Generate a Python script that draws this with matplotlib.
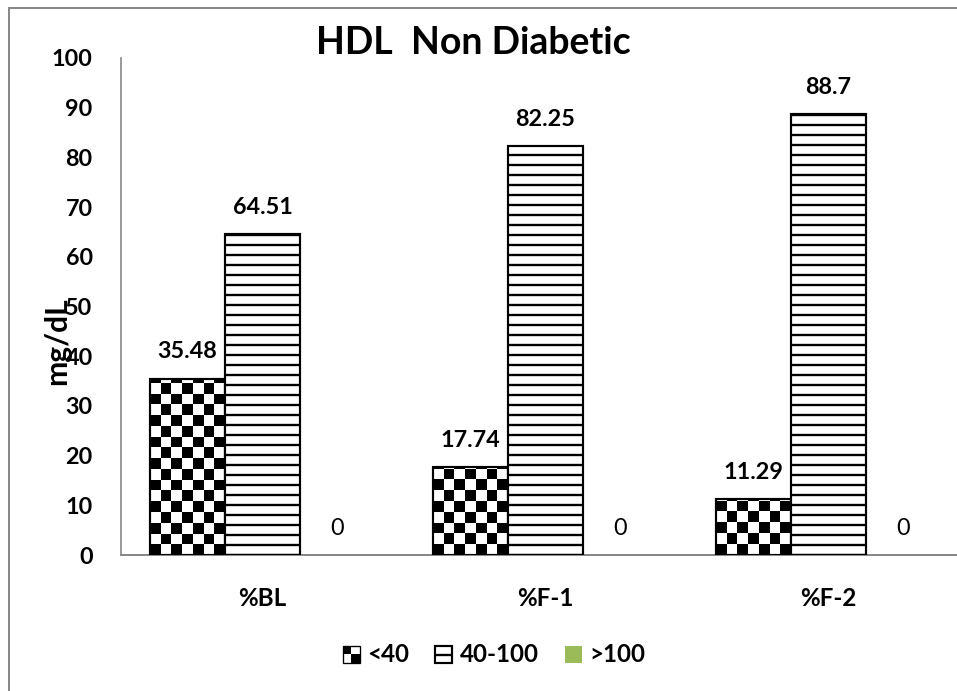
import numpy as np
import matplotlib
matplotlib.use("Agg")
import matplotlib.pyplot as plt
from matplotlib.patches import Rectangle
from matplotlib.legend_handler import HandlerBase

categories = ["%BL", "%F-1", "%F-2"]
series_names = ["<40", "40-100", ">100"]
lt40 = [35.48, 17.74, 11.29]
mid = [64.51, 82.25, 88.7]
gt100 = [0, 0, 0]
yticks = list(range(0, 101, 10))

DPI = 120
plt.rcParams["font.family"] = ["Lato", "DejaVu Sans"]
plt.rcParams["hatch.linewidth"] = 1.4
plt.rcParams["hatch.color"] = "black"

fig = plt.figure(figsize=(957 / DPI, 691 / DPI), dpi=DPI)
ax = fig.add_axes([121 / 957, 1 - 555 / 691, 849 / 957, 497 / 691])

x = np.arange(len(categories))
w = 0.265
ax.set_xlim(-0.5, len(categories) - 0.5)
ax.set_ylim(0, 100)

# checkerboard bars
b1 = ax.bar(x - w, lt40, w, facecolor="none", edgecolor="black", linewidth=1.3, zorder=3)
px_per_unit_y = ax.transData.transform((0, 1))[1] - ax.transData.transform((0, 0))[1]
for rect in b1.patches:
    bx, bw, bh = rect.get_x(), rect.get_width(), rect.get_height()
    ncols = 7
    cell_px = (ax.transData.transform((bw, 0))[0] - ax.transData.transform((0, 0))[0]) / ncols
    cell_y = cell_px / px_per_unit_y
    nrows = int(np.ceil(bh / cell_y))
    arr = (np.add.outer(np.arange(nrows), np.arange(ncols)) % 2).astype(float)
    im = ax.imshow(arr, cmap="gray", vmin=0, vmax=1, interpolation="nearest",
                   extent=(bx, bx + bw, 0, nrows * cell_y), origin="lower",
                   aspect="auto", zorder=2)
    im.set_clip_path(rect)

b2 = ax.bar(x, mid, w, facecolor="white", edgecolor="black", linewidth=1.3, hatch="--", zorder=3)
b3 = ax.bar(x + w, gt100, w, color="#9BBB59", zorder=3)

ax.set_xlim(-0.5, len(categories) - 0.5)
ax.set_ylim(0, 100)

# value labels
for rects, vals in ((b1, lt40), (b2, mid), (b3, gt100)):
    for rect, v in zip(rects.patches, vals):
        cx = rect.get_x() + rect.get_width() / 2
        ax.annotate(f"{v:g}", (cx, rect.get_height()), xytext=(0, 16), textcoords="offset points",
                    ha="center", va="center", fontsize=14,
                    fontweight="normal" if v == 0 else "bold")

ax.set_yticks(yticks)
ax.set_yticklabels([str(t) for t in yticks], fontsize=14, fontweight="bold")
ax.set_xticks(x)
ax.set_xticklabels(categories, fontsize=14.5, fontweight="bold")
ax.tick_params(axis="both", length=0)
ax.tick_params(axis="y", pad=17)
ax.tick_params(axis="x", pad=19)

for s in ("top", "right"):
    ax.spines[s].set_visible(False)
ax.spines["left"].set_color("#888888")
ax.spines["bottom"].set_color("#888888")
ax.spines["left"].set_linewidth(1.0)
ax.spines["bottom"].set_linewidth(1.2)

ax.set_ylabel("mg/dL", fontsize=18, fontweight="bold")
ax.yaxis.set_label_coords(-0.059, 0.43)

fig.text(473 / 957, 1 - 43 / 691, "HDL  Non Diabetic", ha="center", va="center",
         fontsize=22.5, fontweight="bold")


class CheckerHandler(HandlerBase):
    def create_artists(self, legend, orig_handle, xdescent, ydescent, width, height, fontsize, trans):
        s = height
        x0 = -xdescent + (width - s) / 2
        y0 = -ydescent
        h = s / 2
        arts = [
            Rectangle((x0, y0), s, s, facecolor="white", edgecolor="black", lw=0.8, transform=trans),
            Rectangle((x0, y0 + h), h, h, facecolor="black", edgecolor="none", transform=trans),
            Rectangle((x0 + h, y0), h, h, facecolor="black", edgecolor="none", transform=trans),
        ]
        return arts


leg = fig.legend([b1, b2, b3], series_names, loc="center", bbox_to_anchor=(494 / 957, 1 - 655 / 691),
                 ncol=3, frameon=False, handlelength=0.7, handleheight=0.7, handletextpad=0.3,
                 columnspacing=1.1, prop={"weight": "bold", "size": 14.5},
                 handler_map={b1: CheckerHandler()})

fig.add_artist(Rectangle((9 / 957, -0.1), 1.2, 1 - 8 / 691 + 0.1, transform=fig.transFigure,
                         fill=False, edgecolor="#888888", linewidth=1.2))

fig.savefig("out.png", dpi=DPI)
